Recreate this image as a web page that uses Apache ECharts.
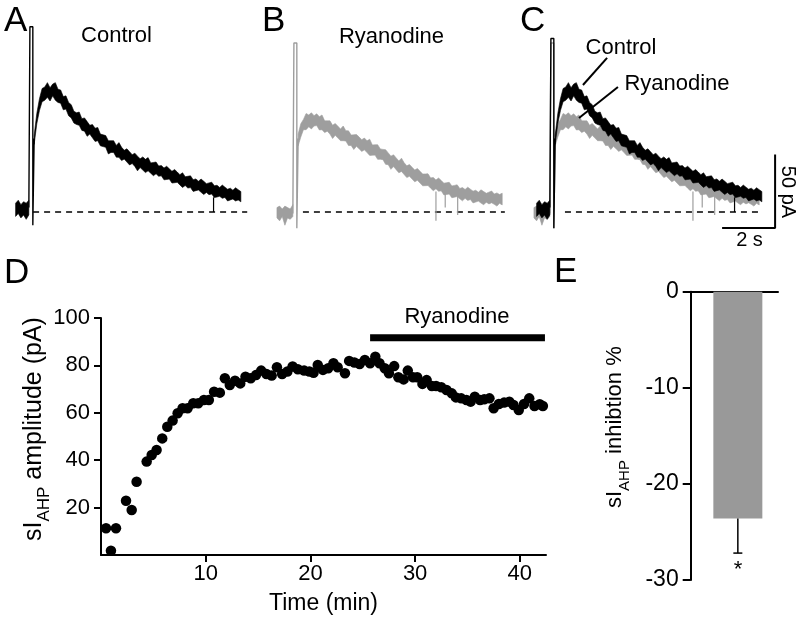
<!DOCTYPE html>
<html><head><meta charset="utf-8">
<script src="https://cdn.jsdelivr.net/npm/echarts@6/dist/echarts.min.js"></script>
<style>html,body{margin:0;padding:0;background:#fff}#c{width:800px;height:622px}</style>
</head><body><div id="c"></div>
<script>
// ---------------- DATA ----------------
// Traces (A, B, C): time in s relative to the stimulus artifact, current in pA
const sampleStep = 0.1, postStart = 0.1;
const ctrlCenter = [50,63,74,79,81,82,81.5,82,81,79.5,78,75.5,73,70.5,68,65.5,63.5,62,60.5,59,57.5,56,54.5,53,51.5,50,48.5,47,45.5,44.5,43.5,42.3,41.2,40,39,38,37,36,35,34,33.2,32.5,31.8,31,30.4,29.7,29,28.3,27.6,26.9,26.1,25.4,24.7,23.9,23.2,22.4,21.7,21,20.3,19.6,19,18.5,18,17.4,16.9,16.3,15.8,15.3,14.8,14.2,13.7,13.3,12.9,12.5,12.2,11.8,11.5,11.2,10.9];
const ctrlNoiseUp = [2,4,3,5,4,6,3,5,7,4,5,3,6,4,5,3,4,6,3,5,4,3,5,4,6,3,4,5,3,4,5,3,6,4,3,5,4,3,5,4,3,5,4,6,3,4,5,3,4,3,5,4,3,5,4,3,5,3,4,5,3,4,3,5,4,3,4,5,3,4,3,5,4,3,4,3,5,4,3];
const ctrlNoiseLo = [4,3,5,4,5,4,6,3,5,5,4,6,3,5,4,5,4,3,5,4,6,3,4,5,3,5,4,3,6,4,3,5,4,5,3,4,5,3,4,6,3,4,5,3,4,5,3,4,3,5,4,3,5,4,3,4,5,3,4,3,5,4,3,4,5,3,4,3,5,4,3,4,3,5,4,3,4,3,4];
const ryaCenter = [50,55,59,61,62,62.5,62.5,61.8,60.8,60,59,58,57,56,55.2,54.3,53.5,52.5,51.3,50.2,49.3,48.5,47.7,47,46.2,45.3,44.4,43.5,42.6,41.7,40.8,39.9,38.6,37.4,36.2,35,33.9,32.8,31.7,30.6,29.5,28.4,27.3,26.4,25.5,24.6,23.7,22.8,21.9,21,20.2,19.5,18.8,18.1,17.4,16.6,15.9,15.2,14.7,14.1,13.5,13,12.6,12.3,11.9,11.5,11.2,10.8,10.4,10.1,9.9,9.7,9.5,9.3,9.2,9,8.9,8.8];
const ryaNoiseUp = [3,5,4,6,4,5,3,5,4,6,3,4,5,3,5,4,3,6,4,5,3,4,5,4,3,5,4,6,3,4,5,3,4,5,4,3,5,4,3,6,4,3,5,4,3,5,4,3,4,5,3,4,3,5,4,3,4,5,3,4,5,3,4,3,5,4,3,4,3,5,4,3,4,5,3,4,3,4];
const ryaNoiseLo = [5,4,3,5,4,6,4,3,5,4,5,3,4,6,3,4,5,4,3,5,4,6,3,4,5,3,4,5,4,3,5,4,3,5,4,6,3,4,5,3,4,5,3,4,5,3,4,5,4,3,4,5,3,4,3,5,4,3,5,4,3,4,5,3,4,3,5,4,3,4,5,3,4,3,4,5,3,4];
// pre-stimulus baseline
const ctrlPreT = [-0.6,-0.5,-0.4,-0.3,-0.2,-0.1];
const ctrlPreUp = [6,8,5,7,6,8];
const ctrlPreLo = [-3,-1,-4,-2,-5,-2];
const ryaPreT = [-0.7,-0.6,-0.5,-0.4,-0.3,-0.2,-0.1];
const ryaPreUp = [3,4,2,4,3,2,5];
const ryaPreLo = [-4,-6,-3,-9,-4,-5,-3];
// stimulus artifact
const artT = [-0.1,-0.06,-0.06,0.05,0.05,0.1];
const ctrlArtV = [3,3,126,126,-9,50];
const ryaArtV = [-1,-1,115,115,-11,50];
const cCtrlArtV = [3,3,118,118,-11,50];
const cRyaArtV = [-1,-1,115,115,-11,50];
// brief downward spikes
const ctrlSpikeT = [6.87], ctrlSpikeTop = [10], ctrlSpikeMin = [0];
const ryaSpikeT = [5.30,5.65,6.12], ryaSpikeTop = [14,13,11], ryaSpikeMin = [-6,3,-2];
// zero-current dashed lines (start, end in s)
const zeroA = [0.06, 8.14], zeroB = [0.28, 7.9], zeroC = [0.47, 7.9];
// scale bar
const scaleBarT = [6.4, 8.4], scaleBarPA = [-10.9, 39.1];

// Panel D: sIAHP amplitude over time
const timeMin = [0.48,0.95,1.43,2.39,2.93,3.4,4.36,4.84,5.31,5.85,6.33,6.84,7.32,7.79,8.27,8.81,9.29,9.83,10.3,10.8,11.35,11.83,12.3,12.8,13.3,13.8,14.3,14.8,15.3,15.8,16.3,16.8,17.3,17.8,18.3,18.8,19.4,19.9,20.3,20.7,21.2,21.7,22.2,22.6,23.3,23.7,24.2,24.7,25.2,25.7,26.2,26.6,27.1,27.5,28.0,28.4,28.9,29.3,29.8,30.2,30.7,31.1,31.6,32.0,32.5,33.0,33.5,33.9,34.4,34.9,35.3,35.7,36.2,36.6,37.1,37.5,38.0,38.5,39.0,39.4,39.9,40.4,40.9,41.4,41.9,42.2];
const amplitudePA = [11.3,1.8,11.3,22.9,19.0,30.9,39.4,42.2,44.3,49.2,54.1,56.7,59.8,61.9,61.9,64.0,64.0,65.4,65.4,68.9,68.5,74.6,71.7,73.5,72.4,75.2,74.6,75.9,77.8,76.4,75.7,79.2,76.4,77.4,79.5,78.4,77.8,77.4,76.9,80.2,78.1,78.8,80.9,79.2,76.7,81.9,81.2,80.6,82.3,80.9,83.7,80.9,78.8,76.7,79.7,75.0,74.1,77.8,75.0,75.0,72.2,73.8,71.3,71.3,70.8,69.6,68.2,66.5,66.1,65.4,64.7,66.8,65.4,65.7,66.1,61.9,63.7,64.3,64.7,63.3,61.2,63.7,66.1,62.9,63.6,62.9];
const ryanodineBarMin = [25.7, 42.4], ryanodineBarLevel = 91.7;
const dXTicks = [10,20,30,40], dYTicks = [20,40,60,80,100];

// Panel E: inhibition %
const inhibitionMean = -23.6, inhibitionSEM = 3.6, barPos = 0.54;
const eYTicks = [0,-10,-20,-30];

// ---------------- CHART ----------------
const FONT = '"Liberation Sans", Arial, Helvetica, sans-serif';
const GREY = '#9e9e9e';
const PX_PER_S = 26.5, PX_PER_PA = 1.47;
const T_MIN = -0.8, T_MAX = 8.4, V_MIN = -15, V_MAX = 135;
const traceW = (T_MAX - T_MIN) * PX_PER_S;
const traceH = (V_MAX - V_MIN) * PX_PER_PA;
const traceTop = 212 - V_MAX * PX_PER_PA;
const traceLefts = [10.3, 274.3, 531.3];

const postTimes = n => Array.from({length:n}, (_, i) => +(postStart + i*sampleStep).toFixed(2));
const ctrlT = postTimes(ctrlCenter.length);
const ryaT = postTimes(ryaCenter.length);
const ctrlUp = ctrlCenter.map((c,i)=>c+ctrlNoiseUp[i]);
const ctrlLo = ctrlCenter.map((c,i)=>c-ctrlNoiseLo[i]);
const ryaUp = ryaCenter.map((c,i)=>c+ryaNoiseUp[i]);
const ryaLo = ryaCenter.map((c,i)=>c-ryaNoiseLo[i]);

function band(gi, t, up, lo, color, z){
  return {type:'custom', xAxisIndex:gi, yAxisIndex:gi, z, silent:true, clip:false,
    data:[[t[0], up[0]]],
    renderItem(params, api){
      const pts=[];
      for (let i=0;i<t.length;i++) pts.push(api.coord([t[i], up[i]]));
      for (let i=t.length-1;i>=0;i--) pts.push(api.coord([t[i], lo[i]]));
      return {type:'polygon', shape:{points:pts}, style:{fill:color, stroke:color, lineWidth:0.6, lineJoin:'round'}};
    }};
}
function line(gi, xs, ys, color, width, z, dash){
  return {type:'line', xAxisIndex:gi, yAxisIndex:gi, z, silent:true, clip:false, symbol:'none', animation:false,
    data: xs.map((x,i)=>[x, ys[i]]),
    lineStyle:{color, width, type: dash || 'solid', cap:'butt'}};
}
function spikes(gi, ts, tops, mins, color, z){
  return {type:'custom', xAxisIndex:gi, yAxisIndex:gi, z, silent:true, clip:false,
    data: ts.map((t,i)=>[t, tops[i], mins[i]]),
    renderItem(params, api){
      const a = api.coord([api.value(0), api.value(1)]);
      const b = api.coord([api.value(0), api.value(2)]);
      return {type:'line', shape:{x1:a[0], y1:a[1], x2:b[0], y2:b[1]}, style:{stroke:color, lineWidth:1.2}};
    }};
}
function trace(gi, which, color, z, artV){
  const s = [];
  if (which === 'ctrl'){
    s.push(band(gi, ctrlPreT, ctrlPreUp, ctrlPreLo, color, z));
    s.push(band(gi, ctrlT, ctrlUp, ctrlLo, color, z));
    s.push(line(gi, artT, artV, color, 1.4, z));
    s.push(spikes(gi, ctrlSpikeT, ctrlSpikeTop, ctrlSpikeMin, color, z));
  } else {
    s.push(band(gi, ryaPreT, ryaPreUp, ryaPreLo, color, z));
    s.push(band(gi, ryaT, ryaUp, ryaLo, color, z));
    s.push(line(gi, artT, artV, color, 1.4, z));
    s.push(spikes(gi, ryaSpikeT, ryaSpikeTop, ryaSpikeMin, color, z));
  }
  return s;
}

const grids = traceLefts.map(l => ({left:l, top:traceTop, width:traceW, height:traceH}));
grids.push({left:101, top:318, width:445, height:237});
grids.push({left:690.7, top:291.7, width:87.3, height:288.3});

const hiddenX = i => ({gridIndex:i, type:'value', min:T_MIN, max:T_MAX, show:false});
const hiddenY = i => ({gridIndex:i, type:'value', min:V_MIN, max:V_MAX, show:false});
const axLine = {show:true, lineStyle:{color:'#000', width:2}};

const xAxes = [hiddenX(0), hiddenX(1), hiddenX(2),
  {gridIndex:3, type:'value', min:0, max:42.5, axisLine:axLine,
   axisTick:{show:true, length:7, customValues:dXTicks, lineStyle:{color:'#000', width:2}},
   axisLabel:{customValues:dXTicks, fontSize:22, color:'#000', margin:8, fontFamily:FONT},
   splitLine:{show:false},
   name:'Time (min)', nameLocation:'middle', nameGap:37, nameTextStyle:{fontSize:23, color:'#000', fontFamily:FONT}},
  {gridIndex:4, type:'value', min:0, max:1, axisLine:{show:true, onZero:true, lineStyle:{color:'#000', width:2}},
   axisTick:{show:false}, axisLabel:{show:false}, splitLine:{show:false}}
];
const yAxes = [hiddenY(0), hiddenY(1), hiddenY(2),
  {gridIndex:3, type:'value', min:0, max:100, interval:20, axisLine:axLine,
   axisTick:{show:true, length:7, customValues:dYTicks, lineStyle:{color:'#000', width:2}},
   axisLabel:{customValues:dYTicks, fontSize:22, color:'#000', margin:11, fontFamily:FONT},
   splitLine:{show:false}},
  {gridIndex:4, type:'value', min:-30, max:0, interval:10, axisLine:axLine,
   axisTick:{show:true, length:8, customValues:eYTicks, lineStyle:{color:'#000', width:2}},
   axisLabel:{customValues:eYTicks, fontSize:23, color:'#000', margin:12, fontFamily:FONT},
   splitLine:{show:false}}
];

const series = [];
// A
series.push(line(0, zeroA, [0,0], '#000', 1.3, 1, [6,5]));
series.push(...trace(0, 'ctrl', '#000', 3, ctrlArtV));
// B
series.push(line(1, zeroB, [0,0], '#000', 1.3, 1, [6,5]));
series.push(...trace(1, 'rya', GREY, 3, ryaArtV));
// C
series.push(line(2, zeroC, [0,0], '#000', 1.3, 1, [6,5]));
series.push(...trace(2, 'rya', GREY, 2, cRyaArtV));
series.push(...trace(2, 'ctrl', '#000', 3, cCtrlArtV));
series.push(line(2, [scaleBarT[0], scaleBarT[1], scaleBarT[1]], [scaleBarPA[0], scaleBarPA[0], scaleBarPA[1]], '#000', 2, 4));
series.push(line(2, [2.06, 1.15], [104.8, 86.4], '#000', 2, 5));
series.push(line(2, [2.47, 1.0], [85, 64], '#000', 2, 5));
// D
series.push({type:'scatter', xAxisIndex:3, yAxisIndex:3, symbolSize:10.5, silent:true,
  itemStyle:{color:'#000', opacity:1}, data: timeMin.map((t,i)=>[t, amplitudePA[i]]), clip:false});
series.push(line(3, ryanodineBarMin, [ryanodineBarLevel, ryanodineBarLevel], '#000', 7, 4));
// E
series.push({type:'bar', xAxisIndex:4, yAxisIndex:4, barWidth:49, silent:true,
  itemStyle:{color:'#999999'}, data:[[barPos, inhibitionMean]]});
series.push({type:'custom', xAxisIndex:4, yAxisIndex:4, silent:true, z:5,
  data:[[barPos, inhibitionMean, inhibitionSEM]],
  renderItem(params, api){
    const a = api.coord([api.value(0), api.value(1)]);
    const b = api.coord([api.value(0), api.value(1) - api.value(2)]);
    return {type:'group', children:[
      {type:'line', shape:{x1:a[0], y1:a[1], x2:b[0], y2:b[1]}, style:{stroke:'#000', lineWidth:1.5}},
      {type:'line', shape:{x1:b[0]-4.5, y1:b[1], x2:b[0]+4.5, y2:b[1]}, style:{stroke:'#000', lineWidth:1.5}}
    ]};
  }});

// text helpers
const mctx = document.createElement('canvas').getContext('2d');
function tw(s, fs){ mctx.font = fs + 'px ' + FONT; return mctx.measureText(s).width; }
function txt(s, x, y, fs, align, rot){
  return {type:'text', x, y, rotation: rot || 0, silent:true,
    style:{text:s, fontSize:fs, fontFamily:FONT, fill:'#000', align: align || 'center', verticalAlign:'middle'}};
}
function subTitle(x, y, fs, subFs, subDy, pre, sub, post){
  const w1 = tw(pre, fs), w2 = tw(sub, subFs);
  return {type:'group', x, y, rotation: Math.PI/2, silent:true, children:[
    {type:'text', x:0, y:0, style:{text:pre, fontSize:fs, fontFamily:FONT, fill:'#000', align:'left', verticalAlign:'middle'}},
    {type:'text', x:w1, y:subDy, style:{text:sub, fontSize:subFs, fontFamily:FONT, fill:'#000', align:'left', verticalAlign:'middle'}},
    {type:'text', x:w1+w2, y:0, style:{text:post, fontSize:fs, fontFamily:FONT, fill:'#000', align:'left', verticalAlign:'middle'}}
  ]};
}

const graphic = [
  txt('A', 4, 21, 35, 'left'),
  txt('B', 262, 21, 35, 'left'),
  txt('C', 520, 21, 35, 'left'),
  txt('D', 4, 273, 35, 'left'),
  txt('E', 554, 272, 35, 'left'),
  txt('Control', 116.5, 36, 22),
  txt('Ryanodine', 391.5, 37, 22),
  txt('Control', 621, 48, 22),
  txt('Ryanodine', 677, 84, 22),
  txt('2 s', 749.5, 240, 20),
  txt('50 pA', 788, 192, 20, 'center', -Math.PI/2),
  txt('Ryanodine', 457, 317, 22),
  txt('*', 738, 570, 22),
  subTitle(34, 541, 25, 17, 10, 'sI', 'AHP', ' amplitude (pA)'),
  subTitle(615, 508, 22, 15, 10, 'sI', 'AHP', ' inhibtion %')
];

const chart = echarts.init(document.getElementById('c'), null, {renderer:'canvas'});
chart.setOption({
  animation:false,
  backgroundColor:'#fff',
  textStyle:{fontFamily:FONT},
  grid:grids, xAxis:xAxes, yAxis:yAxes, series, graphic
});
</script></body></html>
